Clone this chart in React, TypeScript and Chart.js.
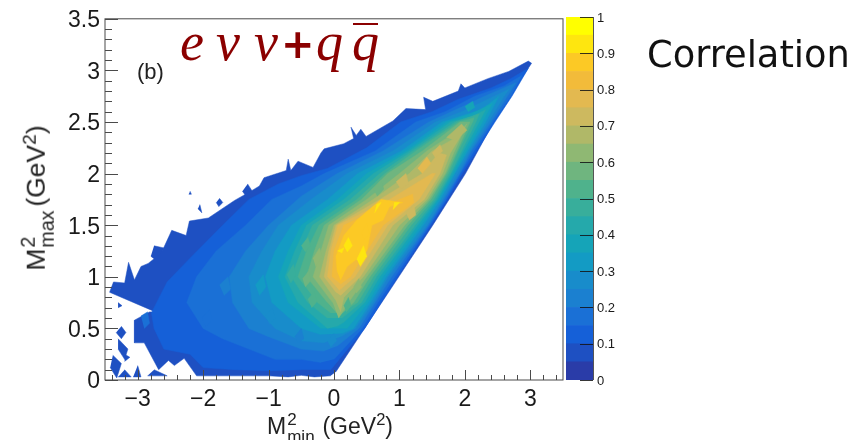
import React, { useEffect, useRef } from "react";
import { Chart, registerables } from "chart.js";
Chart.register(...registerables);

type P = number[][];
const xMajor = [-3, -2, -1, 0, 1, 2, 3];
const yMajor = [0, 0.5, 1, 1.5, 2, 2.5, 3, 3.5];
const xMinor = [-3.4,-3.2,-2.8,-2.6,-2.4,-2.2,-1.8,-1.6,-1.4,-1.2,-0.8,-0.6,-0.4,-0.2,0.2,0.4,0.6,0.8,1.2,1.4,1.6,1.8,2.2,2.4,2.6,2.8,3.2,3.4];
const yMinor = [0.1,0.2,0.3,0.4,0.6,0.7,0.8,0.9,1.1,1.2,1.3,1.4,1.6,1.7,1.8,1.9,2.1,2.2,2.3,2.4,2.6,2.7,2.8,2.9,3.1,3.2,3.3,3.4];
const barTicks = [0,0.1,0.2,0.3,0.4,0.5,0.6,0.7,0.8,0.9,1];
const bandColors = ["#2a3ca8","#1e50c2","#1560d8","#1a70d6","#1b80d0","#188ccb","#139bc4","#15a4b8","#25a9ab","#38ae9b","#4fb28c","#6fb57f","#8fb873","#b0b868","#cdb95f","#e3b950","#f2bb3a","#fcc925","#fee60f","#ffff00"];
const bandWidth = 0.05;

const outer: P = [[0.03,0.08],[0.99,1],[1.51,1.5],[2.01,2],[2.44,2.5],[2.74,2.8],[3.02,3.07],[2.97,3.09],[2.67,2.99],[2.35,2.92],[2.0,2.83],[1.94,2.87],[1.9,2.8],[1.51,2.7],[1.37,2.74],[1.4,2.62],[1.1,2.63],[0.9,2.51],[0.49,2.36],[0.41,2.43],[0.34,2.37],[0.26,2.45],[0.3,2.34],[0.15,2.29],[-0.15,2.24],[-0.2,2.2],[-0.32,2.06],[-0.55,2.12],[-0.66,2.03],[-0.7,2.14],[-0.73,2.03],[-1.07,1.96],[-1.14,1.88],[-1.27,1.83],[-1.52,1.74],[-1.92,1.57],[-2.21,1.54],[-2.26,1.4],[-2.48,1.45],[-2.64,1.23],[-2.84,1.13],[-2.95,1.1],[-3.05,0.97],[-3.14,1.14],[-3.2,0.94],[-3.37,0.95],[-3.43,0.85],[-2.73,0.66],[-2.82,0.66],[-3.05,0.58],[-3.05,0.36],[-2.9,0.36],[-2.68,0.1],[-2.53,0.19],[-2.44,0.14],[-2.29,0.21],[-2.1,0.04],[-1,0.04],[-0.7,0.03],[-0.5,0.045],[-0.3,0.03],[-0.05,0.04]];
const islands: P[] = [
  [[-3.25,0.52],[-3.18,0.46],[-3.25,0.4],[-3.33,0.46]],
  [[-3.3,0.4],[-3.15,0.3],[-3.2,0.2],[-3.3,0.3]],
  [[-3.38,0.24],[-3.25,0.16],[-3.32,0.02],[-3.42,0.12]],
  [[-3.2,0.25],[-3.12,0.22],[-3.2,0.18]],
  [[-3.2,0.1],[-3.1,0.03],[-3.3,0.03]],
  [[-3.0,0.14],[-2.95,0.03],[-3.07,0.03]],
  [[-2.75,0.1],[-2.55,0.04],[-2.85,0.04]],
  [[-3.3,0.75],[-3.24,0.72],[-3.3,0.7]],
  [[-1.32,1.9],[-1.25,1.83],[-1.32,1.76],[-1.4,1.83]],
  [[-1.75,1.76],[-1.7,1.72],[-1.76,1.68],[-1.8,1.72]],
  [[-2.05,1.7],[-2.02,1.62],[-2.08,1.66]],
  [[-2.2,1.83],[-2.18,1.8],[-2.22,1.8]],
  [[-2.75,1.3],[-2.6,1.28],[-2.68,1.14],[-2.8,1.2]],
];
const lv10: P = [[-0.05,0.1],[0.47,0.5],[0.72,0.75],[0.97,1],[1.48,1.5],[1.73,1.75],[1.96,2],[2.18,2.22],[2.46,2.5],[2.72,2.75],[2.97,3.02],[2.7,2.92],[2.4,2.83],[1.9,2.72],[1.5,2.6],[1.02,2.5],[0.5,2.25],[-0.1,2.05],[-0.5,1.98],[-0.85,1.9],[-1.3,1.75],[-1.7,1.5],[-2.2,1.18],[-2.55,0.95],[-2.79,0.65],[-2.75,0.5],[-2.6,0.3],[-2.2,0.25],[-2,0.12],[-1.5,0.1],[-1,0.09],[-0.5,0.1]];
const lv15: P = [[0,0.2],[0.43,0.5],[0.67,0.75],[0.93,1],[1.46,1.5],[1.71,1.75],[1.93,2],[2.14,2.22],[2.43,2.5],[2.7,2.75],[2.87,2.95],[2.6,2.85],[2.15,2.75],[1.7,2.6],[1.25,2.5],[0.63,2.22],[-0.15,2],[-0.5,1.88],[-0.95,1.75],[-1.35,1.5],[-1.8,1.25],[-2.1,1],[-2.25,0.75],[-2,0.5],[-1.7,0.4],[-1.3,0.3],[-0.9,0.2],[-0.5,0.2],[-0.2,0.17]];
const lv20: P = [[0.05,0.33],[0.38,0.5],[0.63,0.75],[0.88,1],[1.44,1.5],[1.68,1.75],[1.92,2],[2.1,2.22],[2.4,2.5],[2.65,2.75],[2.78,2.88],[2.3,2.75],[1.9,2.63],[1.45,2.5],[0.75,2.22],[0.05,2],[-0.5,1.78],[-1,1.5],[-1.35,1.25],[-1.6,1],[-1.55,0.75],[-1.3,0.5],[-1,0.42],[-0.5,0.3],[-0.15,0.28]];
const lv25: P = [[0.1,0.42],[0.33,0.5],[0.6,0.75],[0.83,1],[1.42,1.5],[1.66,1.75],[1.89,2],[2.08,2.22],[2.36,2.5],[2.6,2.75],[2.68,2.82],[2.45,2.75],[1.95,2.6],[1.55,2.5],[0.9,2.22],[0.2,2],[-0.35,1.75],[-0.85,1.5],[-1.1,1.25],[-1.3,1],[-1.25,0.75],[-0.9,0.5],[-0.5,0.38],[-0.15,0.36]];
const lv30: P = [[0.12,0.45],[0.3,0.5],[0.56,0.75],[0.8,1],[1.37,1.5],[1.63,1.75],[1.85,2],[2.05,2.22],[2.32,2.5],[2.52,2.75],[2.25,2.62],[1.65,2.5],[1.03,2.22],[0.36,2],[-0.1,1.75],[-0.65,1.5],[-0.9,1.25],[-1.05,1],[-0.95,0.75],[-0.5,0.5],[-0.2,0.44]];
const lv35: P = [[0.2,0.5],[0.52,0.75],[0.75,1],[1.33,1.5],[1.6,1.75],[1.83,2],[2.02,2.22],[2.27,2.5],[2.42,2.68],[2.1,2.58],[1.72,2.5],[1.1,2.22],[0.5,2],[0.05,1.75],[-0.5,1.5],[-0.7,1.25],[-0.85,1],[-0.7,0.75],[-0.2,0.5]];
const lv40: P = [[0.05,0.52],[0.15,0.56],[0.47,0.75],[0.7,1],[1.28,1.5],[1.58,1.75],[1.8,2],[1.98,2.22],[2.22,2.5],[2.32,2.62],[2.1,2.55],[1.78,2.5],[1.15,2.22],[0.6,2],[0.15,1.75],[-0.42,1.5],[-0.6,1.25],[-0.75,1],[-0.55,0.75],[-0.1,0.5]];
const lv45: P = [[0.12,0.6],[0.42,0.75],[0.65,1],[1.24,1.5],[1.55,1.75],[1.78,2],[1.95,2.22],[2.17,2.5],[2.22,2.58],[1.85,2.5],[1.2,2.22],[0.7,2],[0.25,1.75],[-0.33,1.5],[-0.5,1.25],[-0.65,1],[-0.4,0.75],[-0.1,0.6]];
const lv50: P = [[0.1,0.65],[0.36,0.75],[0.6,1],[1.18,1.5],[1.52,1.75],[1.75,2],[1.9,2.22],[2.12,2.5],[2.14,2.54],[1.9,2.5],[1.25,2.22],[0.78,2],[0.35,1.75],[-0.23,1.5],[-0.42,1.25],[-0.55,1],[-0.25,0.75],[-0.05,0.65]];
const lv55: P = [[0.08,0.62],[0.3,0.75],[0.55,1],[1.13,1.5],[1.48,1.75],[1.72,2],[1.88,2.22],[2.08,2.5],[1.93,2.5],[1.35,2.22],[0.82,2],[0.42,1.75],[-0.15,1.5],[-0.3,1.25],[-0.42,1],[-0.1,0.75]];
const lv60: P = [[0.07,0.6],[0.22,0.75],[0.5,1],[1.08,1.5],[1.45,1.75],[1.7,2],[1.83,2.2],[2.03,2.48],[1.98,2.45],[1.42,2.22],[1,2],[0.5,1.75],[-0.08,1.5],[-0.2,1.25],[-0.32,1],[-0.02,0.75]];
const lv65: P = [[0.1,0.66],[0.15,0.8],[0.45,1],[1,1.5],[1.42,1.75],[1.66,2],[1.78,2.2],[1.95,2.38],[1.5,2.22],[1.15,2],[0.6,1.75],[0,1.5],[-0.12,1.25],[-0.22,1],[0.02,0.78]];
const lv70: P = [[0.1,0.82],[0.4,1],[0.9,1.5],[1.38,1.75],[1.62,2],[1.72,2.18],[1.6,2.2],[1.35,2],[0.7,1.75],[0.03,1.5],[-0.08,1.25],[-0.15,1],[0.03,0.85]];
const lv75: P = [[0.08,0.87],[0.32,1],[0.82,1.5],[1.3,1.75],[1.55,2],[1.5,2],[0.85,1.75],[0.06,1.5],[-0.05,1.25],[-0.1,1]];
const lv80: P = [[0.1,0.93],[0.25,1],[0.75,1.5],[1.22,1.72],[1.2,1.8],[1,1.75],[0.15,1.5],[0,1.25],[-0.03,1]];
const lv85: P = [[0.1,0.97],[0.2,1.1],[0.5,1.25],[0.58,1.5],[0.75,1.55],[0.85,1.68],[1.05,1.72],[0.72,1.75],[0.35,1.55],[0.15,1.4],[0.03,1.2],[0.05,1.05]];
const core1: P = [[0.05,1.25],[0.15,1.28],[0.12,1.23]];
const core2: P = [[0.62,1.62],[0.72,1.72],[0.65,1.7]];
const core3: P = [[0.9,1.65],[1,1.72],[0.92,1.72]];

// small mottled flecks visible inside the surface, each with its colour band
const flecks: [P, number][] = [
  [[[1.72,2.35],[1.95,2.48],[2.03,2.42],[1.85,2.32]],13],
  [[[1.28,2.05],[1.42,2.16],[1.48,2.1],[1.35,2.0]],15],
  [[[1.5,2.2],[1.62,2.28],[1.66,2.22],[1.55,2.15]],14],
  [[[-0.32,1.18],[-0.22,1.28],[-0.18,1.2],[-0.28,1.1]],12],
  [[[-0.48,0.98],[-0.38,1.06],[-0.36,0.96],[-0.44,0.9]],11],
  [[[-0.72,1.02],[-0.62,1.12],[-0.58,1.02],[-0.66,0.94]],9],
  [[[-0.4,0.78],[-0.3,0.86],[-0.26,0.76],[-0.34,0.7]],10],
  [[[-1.2,0.92],[-1.08,1.02],[-1.04,0.9],[-1.14,0.82]],6],
  [[[-1.05,0.62],[-0.94,0.7],[-0.9,0.6],[-0.98,0.54]],5],
  [[[-1.75,0.92],[-1.62,1],[-1.58,0.88],[-1.68,0.82]],4],
  [[[-2.02,0.6],[-1.9,0.68],[-1.86,0.58],[-1.96,0.52]],3],
  [[[-2.95,0.62],[-2.85,0.66],[-2.82,0.55],[-2.9,0.5]],3],
  [[[-0.5,1.3],[-0.4,1.38],[-0.36,1.3],[-0.44,1.24]],10],
  [[[0.35,1.17],[0.45,1.3],[0.5,1.2],[0.4,1.1]],18],
  [[[0.42,1.42],[0.5,1.52],[0.54,1.42],[0.46,1.36]],17],
  [[[0.15,1.3],[0.22,1.38],[0.28,1.3],[0.2,1.24]],18],
  [[[0.3,0.9],[0.38,0.98],[0.42,0.9],[0.34,0.84]],12],
  [[[0.15,0.72],[0.22,0.8],[0.26,0.72],[0.19,0.66]],10],
  [[[1.1,1.62],[1.22,1.7],[1.25,1.6],[1.15,1.55]],14],
  [[[0.95,1.92],[1.1,2],[1.14,1.9],[1.02,1.85]],14],
  [[[0.6,1.85],[0.72,1.94],[0.76,1.85],[0.66,1.78]],11],
  [[[-0.1,0.38],[0.0,0.45],[0.04,0.38],[-0.05,0.32]],5],
  [[[-0.6,0.42],[-0.5,0.5],[-0.46,0.4],[-0.55,0.36]],4],
  [[[2.0,2.65],[2.12,2.7],[2.15,2.64],[2.05,2.6]],7],
];

// polygon lists paired with the index of their colour band
const contourBands: [P, number][] = [
  [outer,1],[lv10,2],[lv15,3],[lv20,4],[lv25,5],[lv30,6],[lv35,7],[lv40,8],[lv45,9],[lv50,10],[lv55,11],[lv60,12],[lv65,13],[lv70,14],[lv75,15],[lv80,16],[lv85,17],[core1,18],[core2,18],[core3,18],
  ...flecks,
];

const ARIAL = '"Liberation Sans", Arial, sans-serif';
const abs = (l: number, t: number, extra: React.CSSProperties = {}): React.CSSProperties => ({ position: "absolute", left: l, top: t, whiteSpace: "nowrap", lineHeight: 1, ...extra });
const sup: React.CSSProperties = { position: "relative", top: -9, fontSize: "0.72em" };

function polyDataset(poly: P, color: string, order: number) {
  return { data: poly.map(([x, y]) => ({ x, y })), order, showLine: true, fill: "shape", backgroundColor: color, borderColor: color, borderWidth: 0.5, pointRadius: 0, tension: 0 };
}

function AxisLabel({ sub, size }: { sub: string; size: number }) {
  return (
    <span>
      M
      <span style={{ position: "relative", display: "inline-block", width: size * 1.3 }}>
        <span style={{ position: "absolute", left: 1, top: -size, fontSize: size * 0.74 }}>2</span>
        <span style={{ position: "absolute", left: 1, top: -size * 0.26, fontSize: size * 0.74 }}>{sub}</span>
      </span>
      {" "}(GeV<span style={sup}>2</span>)
    </span>
  );
}

export default function App() {
  const main = useRef<HTMLCanvasElement>(null);
  const bar = useRef<HTMLCanvasElement>(null);
  useEffect(() => {
    const tickPlugin = {
      id: "ticks",
      afterDatasetsDraw(c: any) {
        const { ctx, chartArea: a, scales } = c;
        ctx.save();
        ctx.strokeStyle = "#4a4a4a";
        ctx.lineWidth = 1;
        ctx.strokeRect(a.left, a.top, a.right - a.left, a.bottom - a.top);
        const vt = (v: number, len: number) => { const x = Math.round(scales.x.getPixelForValue(v)) + 0.5; ctx.beginPath(); ctx.moveTo(x, a.bottom); ctx.lineTo(x, a.bottom - len); ctx.stroke(); };
        const ht = (v: number, len: number) => { const y = Math.round(scales.y.getPixelForValue(v)) + 0.5; ctx.beginPath(); ctx.moveTo(a.left, y); ctx.lineTo(a.left + len, y); ctx.stroke(); };
        xMajor.forEach((v) => vt(v, 10));
        xMinor.forEach((v) => vt(v, 5));
        yMajor.forEach((v) => ht(v, 13));
        yMinor.forEach((v) => ht(v, 7));
        ctx.restore();
      },
    };
    const n = contourBands.length + islands.length;
    const chart = new Chart(main.current!, {
      type: "scatter",
      data: {
        datasets: [
          ...islands.map((p, i) => polyDataset(p, bandColors[1], n + i)),
          ...contourBands.map(([p, b], i) => polyDataset(p, bandColors[b], n - i)),
        ] as any,
      },
      options: {
        responsive: false,
        animation: false,
        events: [],
        layout: { padding: { top: 17, right: 300, bottom: 0, left: 0 } },
        plugins: { legend: { display: false }, tooltip: { enabled: false }, title: { display: false } },
        scales: {
          x: {
            type: "linear", min: -3.5, max: 3.5,
            grid: { display: false, drawTicks: false }, border: { display: false },
            afterBuildTicks: (ax: any) => { ax.ticks = xMajor.map((value) => ({ value })); },
            afterFit: (s: any) => { s.height = 60; },
            ticks: { autoSkip: false, maxRotation: 0, padding: 6, color: "#1a1a1a", font: { family: ARIAL, size: 23 }, callback: (v: any) => (v < 0 ? "\u2212" + Math.abs(v) : String(v)) },
          },
          y: {
            type: "linear", min: 0, max: 3.5,
            grid: { display: false, drawTicks: false }, border: { display: false },
            afterBuildTicks: (ax: any) => { ax.ticks = yMajor.map((value) => ({ value })); },
            afterFit: (s: any) => { s.width = 105; },
            ticks: { autoSkip: false, padding: 5, labelOffset: 2, color: "#1a1a1a", font: { family: ARIAL, size: 23 }, callback: (v: any) => String(v) },
          },
        },
      } as any,
      plugins: [tickPlugin],
    });
    const barTickPlugin = {
      id: "barTicks",
      afterDatasetsDraw(c: any) {
        const { ctx, chartArea: a, scales } = c;
        ctx.save();
        ctx.strokeStyle = "rgba(20,20,20,0.85)";
        ctx.lineWidth = 1;
        barTicks.forEach((v) => { const y = Math.round(scales.y.getPixelForValue(v)) + 0.5; ctx.beginPath(); ctx.moveTo(a.right, y); ctx.lineTo(a.right - 13, y); ctx.stroke(); });
        ctx.strokeStyle = "#555";
        ctx.beginPath(); ctx.moveTo(a.right + 0.5, a.top); ctx.lineTo(a.right + 0.5, a.bottom); ctx.stroke();
        ctx.restore();
      },
    };
    const colorbar = new Chart(bar.current!, {
      type: "bar",
      data: {
        labels: ["scale"],
        datasets: bandColors.map((c) => ({ data: [bandWidth], backgroundColor: c, borderWidth: 0, barPercentage: 1, categoryPercentage: 1 })),
      },
      options: {
        responsive: false,
        animation: false,
        events: [],
        layout: { padding: { top: 17, right: 0, bottom: 60, left: 6 } },
        plugins: { legend: { display: false }, tooltip: { enabled: false } },
        scales: {
          x: { stacked: true, display: false },
          y: {
            stacked: true, position: "right", min: 0, max: 1,
            grid: { display: false, drawTicks: false }, border: { display: false },
            afterBuildTicks: (ax: any) => { ax.ticks = barTicks.map((value) => ({ value })); },
            afterFit: (s: any) => { s.width = 47; },
            ticks: { autoSkip: false, padding: 4, labelOffset: 1, color: "#1a1a1a", font: { family: ARIAL, size: 13 }, callback: (v: any) => String(v) },
          },
        },
      } as any,
      plugins: [barTickPlugin],
    });
    return () => { chart.destroy(); colorbar.destroy(); };
  }, []);

  const red = "#8b0000";
  const serif: React.CSSProperties = { fontFamily: '"Liberation Serif", serif', fontStyle: "italic", fontSize: 54, color: red };
  const soft: React.CSSProperties = { position: "absolute", top: 0, filter: "blur(0.6px)" };
  return (
    <div style={{ position: "absolute", left: 0, top: 0, width: 863, height: 440, overflow: "hidden", background: "#fff" }}>
      <canvas ref={main} width={863} height={440} style={{ ...soft, left: 0 }} />
      <canvas ref={bar} width={80} height={440} style={{ ...soft, left: 560 }} />
      <div style={abs(137, 61, { fontFamily: ARIAL, fontSize: 22, color: "#222" })}>(b)</div>
      <div style={abs(180, 15, serif)}>e</div>
      <div style={abs(216, 15, serif)}>{"\u03BD"}</div>
      <div style={abs(254, 15, serif)}>{"\u03BD"}</div>
      <div style={abs(281, 24, { fontFamily: '"DejaVu Sans", sans-serif', fontWeight: 700, fontSize: 40, color: red })}>+</div>
      <div style={abs(316, 15, serif)}>q</div>
      <div style={abs(352, 15, serif)}>q</div>
      <div style={abs(353, 23, { width: 25, height: 2, background: red })} />
      <div style={abs(647, 37, { fontFamily: '"DejaVu Sans", sans-serif', fontSize: 36.8, color: "#111" })}>Correlation</div>
      <div style={abs(267, 415, { fontFamily: ARIAL, fontSize: 23, color: "#222" })}><AxisLabel sub="min" size={23} /></div>
      <div style={abs(36, 198, { fontFamily: ARIAL, fontSize: 26.5, color: "#222", transform: "translate(-50%,-50%) rotate(-90deg)" })}><AxisLabel sub="max" size={26.5} /></div>
    </div>
  );
}
